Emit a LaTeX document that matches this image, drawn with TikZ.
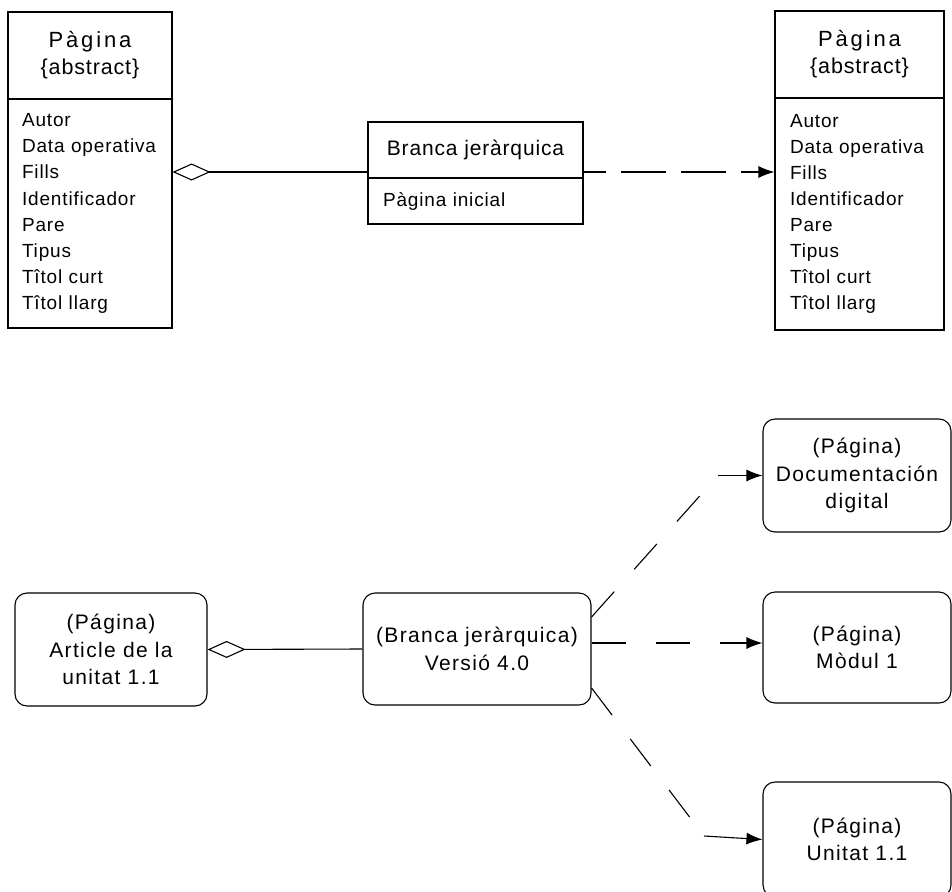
\documentclass[tikz,border=0pt]{standalone}
\usepackage{fontspec}
\setmainfont{Liberation Sans}[LetterSpace=4.0]
\usetikzlibrary{arrows.meta}
\tikzset{
  box/.style={draw, line width=1.1pt, inner sep=0pt},
  hdr/.style={box, align=center, font=\fontsize{21}{27}\selectfont},
  attrs/.style={box, align=left, inner xsep=14pt, font=\fontsize{19}{26.1}\selectfont\addfontfeature{LetterSpace=4.5}},
  objbox/.style={draw, line width=1.1pt, rounded corners=12pt, align=center, inner sep=0pt, font=\fontsize{21}{27.5}\selectfont\addfontfeature{LetterSpace=6.5}},
  aggr/.style={line width=1.1pt, {Diamond[open,length=38pt,width=17pt]}-},
  arrtip/.style={line width=1.1pt, -{Latex[length=16pt,width=12pt]}},
  dsh/.style={line width=1.1pt, dash pattern=on 34pt off 30pt},
}
\newcommand{\pagtitle}{{\fontsize{22}{27}\selectfont\addfontfeature{LetterSpace=13}Pàgina}\\{\fontsize{21.5}{27}\selectfont\{abstract\}}}
\begin{document}
\begin{tikzpicture}[x=1pt,y=-1pt]
\useasboundingbox (0,0) rectangle (952,891);
\clip (0,0) rectangle (952,891);
\fill[white] (0,0) rectangle (952,891);

% class Pagina (left)
\node[hdr, minimum width=164pt, minimum height=87pt] (c1h) at (90,55.5) {\pagtitle};
\node[attrs, text width=136pt, minimum height=229pt] (c1b) at (90,213.5)
  {Autor\\Data operativa\\Fills\\Identificador\\Pare\\Tipus\\Tîtol curt\\Tîtol llarg};

% class Pagina (right)
\node[hdr, minimum width=169pt, minimum height=87pt] (c2h) at (859.5,54.5) {\pagtitle};
\node[attrs, text width=139pt, minimum height=232pt, inner xsep=15pt] (c2b) at (859.5,214)
  {Autor\\Data operativa\\Fills\\Identificador\\Pare\\Tipus\\Tîtol curt\\Tîtol llarg};

% class Branca jerarquica
\node[hdr, minimum width=215pt, minimum height=56pt] (brh) at (475.5,150) {Branca jeràrquica};
\node[attrs, text width=185pt, minimum height=46pt, inner xsep=15pt] (brb) at (475.5,201) {Pàgina inicial};

% top connectors
\coordinate (j1) at (0,172);
\draw[aggr] (j1 -| c1b.east) -- (j1 -| brh.west);
\draw[arrtip, dash pattern=on 45pt off 15pt, dash phase=23pt] (j1 -| brh.east) -- (j1 -| c2b.west);

% objects
\node[objbox, minimum width=192pt, minimum height=113pt] (art) at (111,649.5) {(Página)\\Article de la\\unitat 1.1};
\node[objbox, minimum width=228pt, minimum height=112pt] (vers) at (477,649) {(Branca jeràrquica)\\Versió 4.0};
\node[objbox, minimum width=188pt, minimum height=113pt] (doc) at (857,475.5) {(Página)\\Documentación\\digital};
\node[objbox, minimum width=188pt, minimum height=111pt] (mod) at (857,647.5) {(Página)\\Mòdul 1};
\node[objbox, minimum width=188pt, minimum height=115pt] (uni) at (857,839.5) {(Página)\\Unitat 1.1};

% bottom connectors
\draw[aggr] (art.east) -- (vers.west);
\coordinate (b1) at (718,0);
\draw[dsh] ([yshift=32pt]vers.east) -- (b1 |- doc.west);
\draw[arrtip] (b1 |- doc.west) -- (doc.west);
\draw[dsh, arrtip] ([yshift=6pt]vers.east) -- ([yshift=6pt]vers.east -| mod.west);
\coordinate (b2) at (704,836);
\draw[dsh] ([yshift=-39pt]vers.east) -- (b2);
\draw[arrtip] (b2) -- (uni.west);
\end{tikzpicture}
\end{document}
